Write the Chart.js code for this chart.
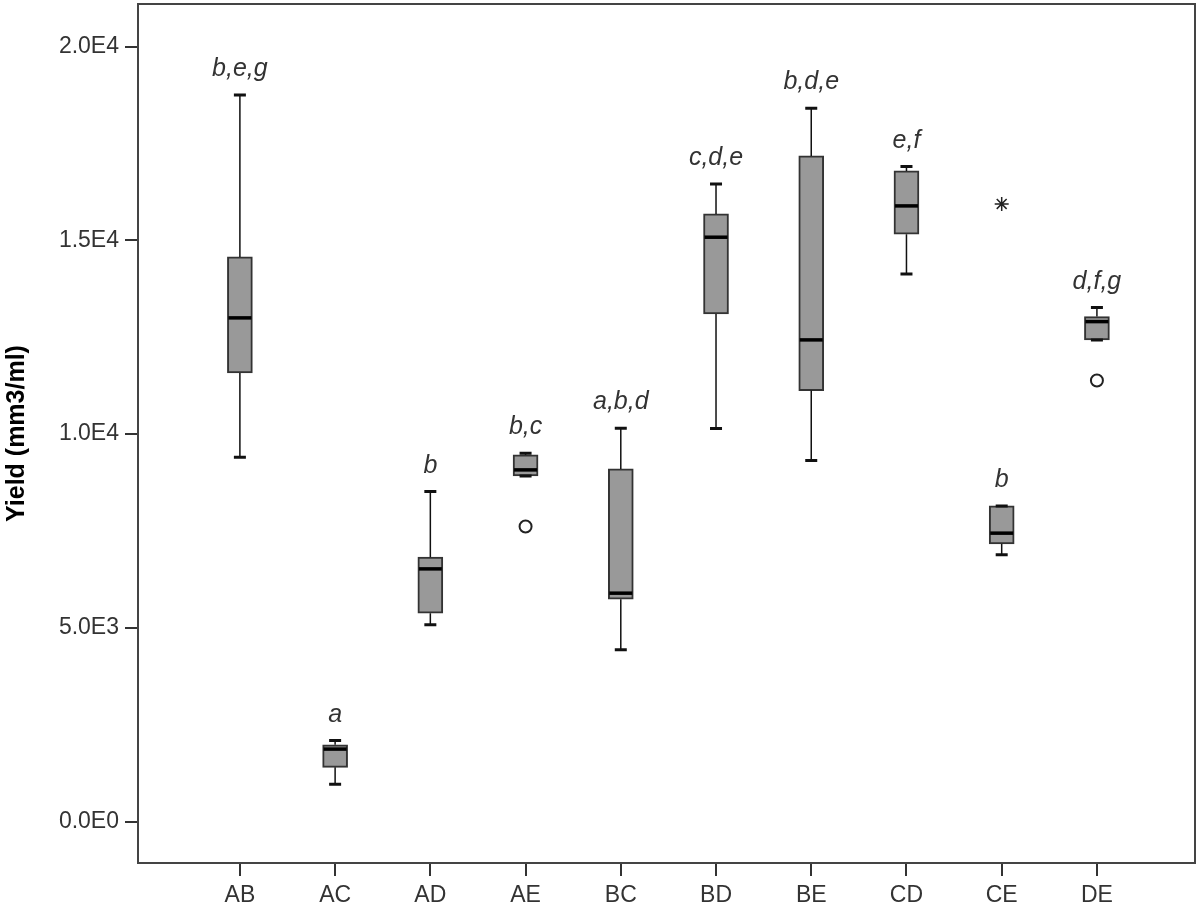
<!DOCTYPE html>
<html>
<head>
    <meta charset="UTF-8">
    <title>Yield box plot</title>
    <script src="https://cdn.jsdelivr.net/npm/chart.js"></script>
    <style>
        body {
            margin: 0;
            background-color: white;
        }
        #wrap {
            width: 1200px;
            height: 905px;
        }
    </style>
</head>
<body>
    <div id="wrap"><canvas id="myChart"></canvas></div>

    <script>
        const categories = ['AB', 'AC', 'AD', 'AE', 'BC', 'BD', 'BE', 'CD', 'CE', 'DE'];
        const whiskerLow = [9400, 965, 5076, 8921, 4431, 10142, 9316, 14134, 6883, 12431];
        const q1 = [11579, 1400, 5378, 8921, 5739, 13102, 11123, 15159, 7166, 12431];
        const median = [12999, 1870, 6521, 9076, 5894, 15081, 12431, 15889, 7443, 12903];
        const q3 = [14573, 1980, 6823, 9463, 9102, 15683, 17179, 16792, 8147, 13032];
        const whiskerHigh = [18754, 2090, 8516, 9507, 10152, 16457, 18410, 16903, 8147, 13265];
        const letters = ['b,e,g', 'a', 'b', 'b,c', 'a,b,d', 'c,d,e', 'b,d,e', 'e,f', 'b', 'd,f,g'];

        // outliers (circle) and extremes (star)
        const outlierCat = ['AE', 'DE'];
        const outlierVal = [7613, 11381];
        const extremeCat = ['CE'];
        const extremeVal = [15940];

        const yTickValues = [0, 5000, 10000, 15000, 20000];
        const yTickLabels = ['0.0E0', '5.0E3', '1.0E4', '1.5E4', '2.0E4'];

        const fontFam = "'Liberation Sans', Arial, sans-serif";
        const ink = '#333';

        // whiskers, medians and letters
        const boxExtras = {
            id: 'boxExtras',
            afterDatasetsDraw(chart) {
                const ctx = chart.ctx;
                const xs = chart.scales.x;
                const ys = chart.scales.y;
                const half = 12.5;
                const cap = 6;
                ctx.save();
                categories.forEach((c, i) => {
                    const x = xs.getPixelForValue(i);
                    ctx.strokeStyle = '#111';
                    ctx.lineWidth = 1.5;
                    ctx.beginPath();
                    ctx.moveTo(x, ys.getPixelForValue(q3[i]));
                    ctx.lineTo(x, ys.getPixelForValue(whiskerHigh[i]));
                    ctx.moveTo(x, ys.getPixelForValue(q1[i]));
                    ctx.lineTo(x, ys.getPixelForValue(whiskerLow[i]));
                    ctx.stroke();
                    // caps
                    ctx.lineWidth = 3;
                    ctx.beginPath();
                    ctx.moveTo(x - cap, ys.getPixelForValue(whiskerHigh[i]));
                    ctx.lineTo(x + cap, ys.getPixelForValue(whiskerHigh[i]));
                    ctx.moveTo(x - cap, ys.getPixelForValue(whiskerLow[i]));
                    ctx.lineTo(x + cap, ys.getPixelForValue(whiskerLow[i]));
                    ctx.stroke();
                    // median
                    ctx.strokeStyle = '#000';
                    ctx.lineWidth = 3.5;
                    ctx.beginPath();
                    ctx.moveTo(x - half + 1, ys.getPixelForValue(median[i]));
                    ctx.lineTo(x + half - 1, ys.getPixelForValue(median[i]));
                    ctx.stroke();
                    // letters
                    ctx.fillStyle = ink;
                    ctx.font = 'italic 25px ' + fontFam;
                    ctx.textAlign = 'center';
                    ctx.textBaseline = 'middle';
                    ctx.fillText(letters[i], x, ys.getPixelForValue(whiskerHigh[i]) - 26);
                });
                // frame
                const a = chart.chartArea;
                ctx.strokeStyle = '#444';
                ctx.lineWidth = 2;
                ctx.strokeRect(a.left, a.top, a.right - a.left, a.bottom - a.top);
                ctx.restore();
            }
        };

        const ctx = document.getElementById('myChart').getContext('2d');
        const chart = new Chart(ctx, {
            type: 'bar',
            data: {
                datasets: [
                    {
                        type: 'bar',
                        data: categories.map((c, i) => ({ x: i, y: [q1[i], q3[i]] })),
                        backgroundColor: '#999999',
                        borderColor: '#333333',
                        borderWidth: 2,
                        borderSkipped: false,
                        barThickness: 25
                    },
                    {
                        type: 'scatter',
                        data: outlierCat.map((c, i) => ({ x: categories.indexOf(c), y: outlierVal[i] })),
                        pointStyle: 'circle',
                        radius: 6,
                        backgroundColor: 'white',
                        borderColor: '#222',
                        borderWidth: 2
                    },
                    {
                        type: 'scatter',
                        data: extremeCat.map((c, i) => ({ x: categories.indexOf(c), y: extremeVal[i] })),
                        pointStyle: 'star',
                        radius: 7,
                        borderColor: '#222',
                        borderWidth: 1.5
                    }
                ]
            },
            options: {
                responsive: true,
                maintainAspectRatio: false,
                animation: false,
                layout: { autoPadding: false, padding: { top: 4, right: 5, left: 0, bottom: 0 } },
                plugins: {
                    legend: { display: false },
                    tooltip: { enabled: false }
                },
                scales: {
                    x: {
                        type: 'linear',
                        offset: false,
                        min: -1.07,
                        max: 10.03,
                        afterBuildTicks: s => { s.ticks = categories.map((c, i) => ({ value: i })); },
                        afterFit: s => { s.height = 42; s.paddingLeft = 0; s.paddingRight = 0; },
                        grid: { offset: false, drawOnChartArea: false, tickLength: 13, color: ink, lineWidth: 2 },
                        border: { color: '#444', width: 2 },
                        ticks: {
                            callback: v => categories[v],
                            autoSkip: false,
                            maxRotation: 0,
                            padding: 6,
                            color: ink,
                            font: { family: fontFam, size: 23 }
                        }
                    },
                    y: {
                        min: -1070,
                        max: 21100,
                        afterBuildTicks: s => { s.ticks = yTickValues.map(v => ({ value: v })); },
                        afterFit: s => { s.width = 138; s.paddingTop = 0; s.paddingBottom = 0; },
                        grid: { drawOnChartArea: false, tickLength: 13, color: ink, lineWidth: 2 },
                        border: { color: '#444', width: 2 },
                        ticks: {
                            callback: v => yTickLabels[yTickValues.indexOf(v)],
                            padding: 6,
                            color: ink,
                            font: { family: fontFam, size: 23 }
                        },
                        title: {
                            display: true,
                            text: 'Yield (mm3/ml)',
                            color: '#000',
                            padding: { top: 2, bottom: 0 },
                            font: { family: fontFam, size: 25, weight: 'bold' }
                        }
                    }
                }
            },
            plugins: [boxExtras]
        });
    </script>
</body>
</html>
